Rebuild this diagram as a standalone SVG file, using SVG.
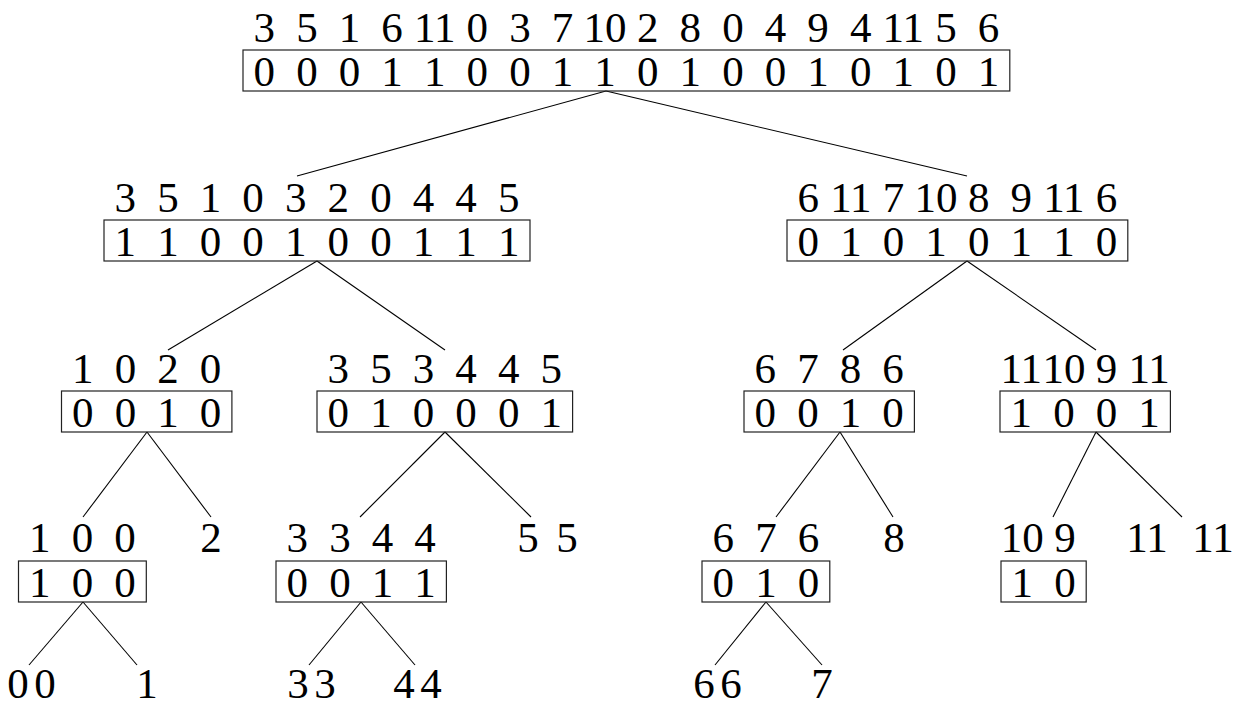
<svg xmlns="http://www.w3.org/2000/svg" width="1248" height="705" viewBox="0 0 1248 705">
<style>
text{font-family:'Liberation Serif','DejaVu Serif',serif;font-size:43px;fill:#000;text-anchor:middle}
.box{fill:none;stroke:#222;stroke-width:1.2}
#connectors line{stroke:#000;stroke-width:1.1}
</style>
<rect width="1248" height="705" fill="#fff"/>
<g id="connectors">
<line x1="606" y1="91" x2="297" y2="176"/>
<line x1="606" y1="91" x2="967" y2="176"/>
<line x1="317" y1="261" x2="168" y2="350"/>
<line x1="317" y1="261" x2="445" y2="350"/>
<line x1="967" y1="261" x2="843" y2="350"/>
<line x1="967" y1="261" x2="1096" y2="350"/>
<line x1="147" y1="432" x2="83" y2="517"/>
<line x1="147" y1="432" x2="211" y2="517"/>
<line x1="445" y1="432" x2="360" y2="517"/>
<line x1="445" y1="432" x2="531" y2="517"/>
<line x1="840" y1="432" x2="776" y2="517"/>
<line x1="840" y1="432" x2="893" y2="517"/>
<line x1="1096" y1="432" x2="1053" y2="517"/>
<line x1="1096" y1="432" x2="1182" y2="517"/>
<line x1="83" y1="602" x2="29" y2="665"/>
<line x1="83" y1="602" x2="137" y2="665"/>
<line x1="361" y1="602" x2="309" y2="665"/>
<line x1="361" y1="602" x2="415" y2="665"/>
<line x1="766" y1="602" x2="715" y2="665"/>
<line x1="766" y1="602" x2="822" y2="665"/>
</g>
<g id="root">
<text y="42"><tspan x="264.3">3</tspan><tspan x="306.9">5</tspan><tspan x="349.5">1</tspan><tspan x="392.1">6</tspan><tspan x="434.7">11</tspan><tspan x="477.3">0</tspan><tspan x="519.9">3</tspan><tspan x="562.5">7</tspan><tspan x="605.1">10</tspan><tspan x="647.7">2</tspan><tspan x="690.3">8</tspan><tspan x="732.9">0</tspan><tspan x="775.5">4</tspan><tspan x="818.1">9</tspan><tspan x="860.7">4</tspan><tspan x="903.3">11</tspan><tspan x="945.9">5</tspan><tspan x="988.5">6</tspan></text>
<rect class="box" x="243" y="50" width="766.8" height="41"/>
<text y="86"><tspan x="264.3">0</tspan><tspan x="306.9">0</tspan><tspan x="349.5">0</tspan><tspan x="392.1">1</tspan><tspan x="434.7">1</tspan><tspan x="477.3">0</tspan><tspan x="519.9">0</tspan><tspan x="562.5">1</tspan><tspan x="605.1">1</tspan><tspan x="647.7">0</tspan><tspan x="690.3">1</tspan><tspan x="732.9">0</tspan><tspan x="775.5">0</tspan><tspan x="818.1">1</tspan><tspan x="860.7">0</tspan><tspan x="903.3">1</tspan><tspan x="945.9">0</tspan><tspan x="988.5">1</tspan></text>
</g>
<g id="n-left">
<text y="212"><tspan x="125.3">3</tspan><tspan x="167.9">5</tspan><tspan x="210.5">1</tspan><tspan x="253.1">0</tspan><tspan x="295.7">3</tspan><tspan x="338.3">2</tspan><tspan x="380.9">0</tspan><tspan x="423.5">4</tspan><tspan x="466.1">4</tspan><tspan x="508.7">5</tspan></text>
<rect class="box" x="104" y="220" width="426" height="41"/>
<text y="256"><tspan x="125.3">1</tspan><tspan x="167.9">1</tspan><tspan x="210.5">0</tspan><tspan x="253.1">0</tspan><tspan x="295.7">1</tspan><tspan x="338.3">0</tspan><tspan x="380.9">0</tspan><tspan x="423.5">1</tspan><tspan x="466.1">1</tspan><tspan x="508.7">1</tspan></text>
</g>
<g id="n-right">
<text y="212"><tspan x="808.3">6</tspan><tspan x="850.9">11</tspan><tspan x="893.5">7</tspan><tspan x="936.1">10</tspan><tspan x="978.7">8</tspan><tspan x="1021.3">9</tspan><tspan x="1063.9">11</tspan><tspan x="1106.5">6</tspan></text>
<rect class="box" x="787" y="220" width="340.8" height="41"/>
<text y="256"><tspan x="808.3">0</tspan><tspan x="850.9">1</tspan><tspan x="893.5">0</tspan><tspan x="936.1">1</tspan><tspan x="978.7">0</tspan><tspan x="1021.3">1</tspan><tspan x="1063.9">1</tspan><tspan x="1106.5">0</tspan></text>
</g>
<g id="n-ll">
<text y="383"><tspan x="82.8">1</tspan><tspan x="125.4">0</tspan><tspan x="168">2</tspan><tspan x="210.6">0</tspan></text>
<rect class="box" x="61.5" y="391" width="170.4" height="41"/>
<text y="427"><tspan x="82.8">0</tspan><tspan x="125.4">0</tspan><tspan x="168">1</tspan><tspan x="210.6">0</tspan></text>
</g>
<g id="n-lr">
<text y="383"><tspan x="338.3">3</tspan><tspan x="380.9">5</tspan><tspan x="423.5">3</tspan><tspan x="466.1">4</tspan><tspan x="508.7">4</tspan><tspan x="551.3">5</tspan></text>
<rect class="box" x="317" y="391" width="255.6" height="41"/>
<text y="427"><tspan x="338.3">0</tspan><tspan x="380.9">1</tspan><tspan x="423.5">0</tspan><tspan x="466.1">0</tspan><tspan x="508.7">0</tspan><tspan x="551.3">1</tspan></text>
</g>
<g id="n-rl">
<text y="383"><tspan x="765.3">6</tspan><tspan x="807.9">7</tspan><tspan x="850.5">8</tspan><tspan x="893.1">6</tspan></text>
<rect class="box" x="744" y="391" width="170.4" height="41"/>
<text y="427"><tspan x="765.3">0</tspan><tspan x="807.9">0</tspan><tspan x="850.5">1</tspan><tspan x="893.1">0</tspan></text>
</g>
<g id="n-rr">
<text y="383"><tspan x="1021.3">11</tspan><tspan x="1063.9">10</tspan><tspan x="1106.5">9</tspan><tspan x="1149.1">11</tspan></text>
<rect class="box" x="1000" y="391" width="170.4" height="41"/>
<text y="427"><tspan x="1021.3">1</tspan><tspan x="1063.9">0</tspan><tspan x="1106.5">0</tspan><tspan x="1149.1">1</tspan></text>
</g>
<g id="n-lll">
<text y="552"><tspan x="39.8">1</tspan><tspan x="82.4">0</tspan><tspan x="125">0</tspan></text>
<rect class="box" x="18.5" y="561" width="127.8" height="41"/>
<text y="597"><tspan x="39.8">1</tspan><tspan x="82.4">0</tspan><tspan x="125">0</tspan></text>
</g>
<g id="n-llr"><text x="211" y="552">2</text></g>
<g id="n-lrl">
<text y="552"><tspan x="297.3">3</tspan><tspan x="339.9">3</tspan><tspan x="382.5">4</tspan><tspan x="425.1">4</tspan></text>
<rect class="box" x="276" y="561" width="170.4" height="41"/>
<text y="597"><tspan x="297.3">0</tspan><tspan x="339.9">0</tspan><tspan x="382.5">1</tspan><tspan x="425.1">1</tspan></text>
</g>
<g id="n-lrr"><text y="552"><tspan x="528">5</tspan><tspan x="567">5</tspan></text></g>
<g id="n-rll">
<text y="552"><tspan x="723.3">6</tspan><tspan x="765.9">7</tspan><tspan x="808.5">6</tspan></text>
<rect class="box" x="702" y="561" width="127.8" height="41"/>
<text y="597"><tspan x="723.3">0</tspan><tspan x="765.9">1</tspan><tspan x="808.5">0</tspan></text>
</g>
<g id="n-rlr"><text x="894" y="552">8</text></g>
<g id="n-rrl">
<text y="552"><tspan x="1022.3">10</tspan><tspan x="1064.9">9</tspan></text>
<rect class="box" x="1001" y="561" width="85.2" height="41"/>
<text y="597"><tspan x="1022.3">1</tspan><tspan x="1064.9">0</tspan></text>
</g>
<g id="n-rrr"><text y="552"><tspan x="1147">11</tspan><tspan x="1213">11</tspan></text></g>
<g id="leaf-0"><text y="698"><tspan x="18">0</tspan><tspan x="45">0</tspan></text></g>
<g id="leaf-1"><text x="147" y="698">1</text></g>
<g id="leaf-3"><text y="698"><tspan x="298">3</tspan><tspan x="325">3</tspan></text></g>
<g id="leaf-4"><text y="698"><tspan x="404">4</tspan><tspan x="431">4</tspan></text></g>
<g id="leaf-6"><text y="698"><tspan x="704">6</tspan><tspan x="731">6</tspan></text></g>
<g id="leaf-7"><text x="822" y="698">7</text></g>
</svg>
